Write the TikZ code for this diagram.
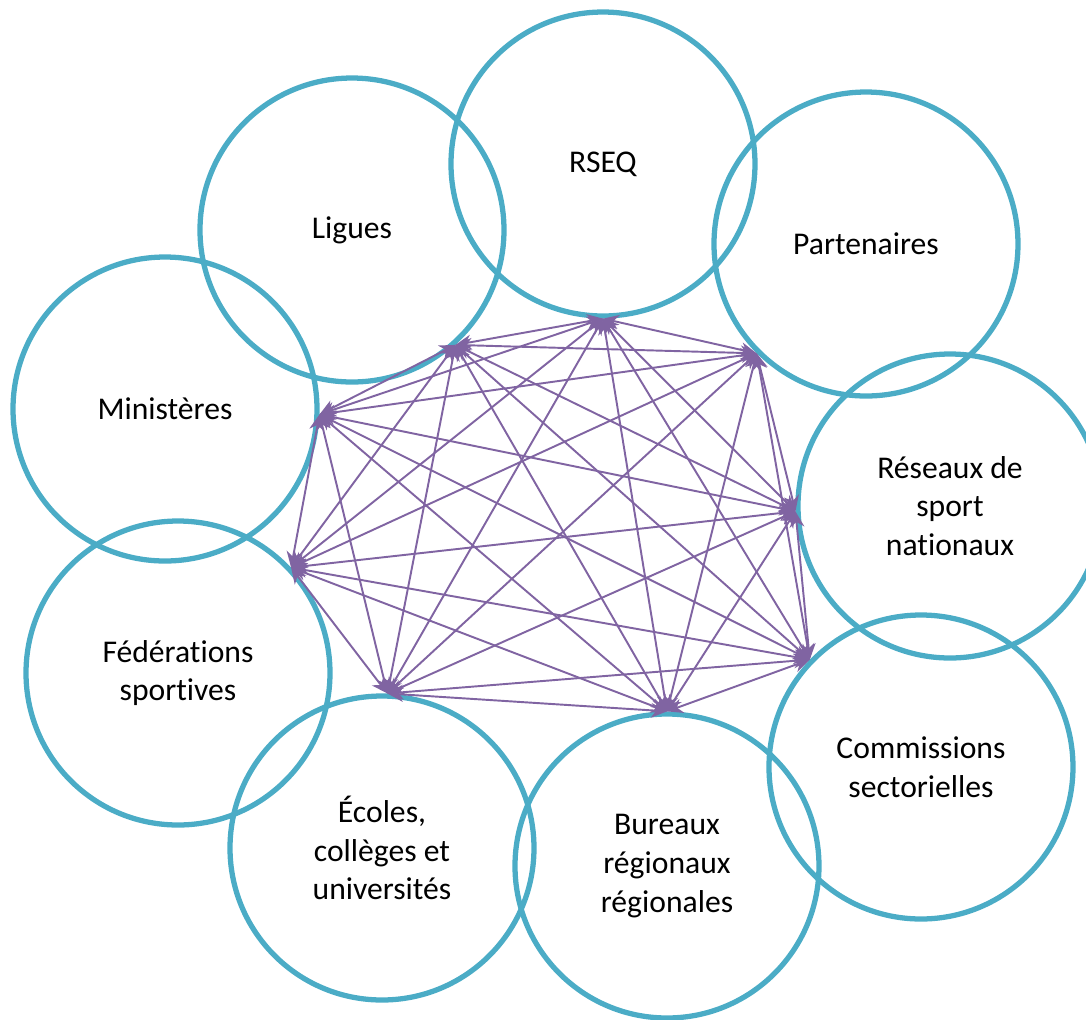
\documentclass[tikz,border=0pt]{standalone}
\usepackage{fontspec}
\setmainfont{Carlito}[Ligatures=NoCommon]
\usetikzlibrary{arrows.meta, positioning, calc}

\definecolor{turquoise}{HTML}{4BACC6}
\definecolor{mauve}{HTML}{8064A2}

\begin{document}
\begin{tikzpicture}[
    x=0.1mm, y=-0.1mm,
    every node/.style={font=\fontsize{9}{11}\selectfont}, % texte des cercles
    acteur/.style={circle, draw=turquoise, line width=1.5pt, minimum size=30.4mm, inner sep=0pt, align=center},
    lien/.style={mauve, line width=0.55pt, {Stealth[length=4.5pt, width=4.2pt]}-{Stealth[length=4.5pt, width=4.2pt]}}
]
    \useasboundingbox (0,0) rectangle (1086,1020);

    % 1. les cercles des acteurs
    \node[acteur] (ligues) at (352,230) {Ligues};
    \node[acteur] (rseq) at (603,164) {RSEQ};
    \node[acteur] (partenaires) at (866,244) {Partenaires};
    \node[acteur] (ministeres) at (165,409) {Ministères};
    \node[acteur] (reseaux) at (950,506) {Réseaux de\\sport\\nationaux};
    \node[acteur] (federations) at (178,673) {Fédérations\\sportives};
    \node[acteur] (commissions) at (921,767) {Commissions\\sectorielles};
    \node[acteur] (ecoles) at (382,848) {Écoles,\\collèges et\\universités};
    \node[acteur] (bureaux) at (667,866) {Bureaux\\régionaux\\régionales};

    % 2. points d'attache sur le bord intérieur
    \coordinate (p-ligues) at (ligues.-48);
    \coordinate (p-rseq) at (rseq.-90);
    \coordinate (p-partenaires) at (partenaires.-135);
    \coordinate (p-ministeres) at (ministeres.-2);
    \coordinate (p-reseaux) at (reseaux.-178);
    \coordinate (p-federations) at (federations.43);
    \coordinate (p-commissions) at (commissions.136);
    \coordinate (p-ecoles) at (ecoles.88);
    \coordinate (p-bureaux) at (bureaux.90);

    % 3. liens entre tous les acteurs
    \foreach \a [count=\i] in {ligues,rseq,partenaires,ministeres,reseaux,federations,commissions,ecoles,bureaux} {
        \foreach \b [count=\j] in {ligues,rseq,partenaires,ministeres,reseaux,federations,commissions,ecoles,bureaux} {
            \ifnum\i<\j
                \draw[lien] (p-\a) -- (p-\b);
            \fi
        }
    }
\end{tikzpicture}
\end{document}
